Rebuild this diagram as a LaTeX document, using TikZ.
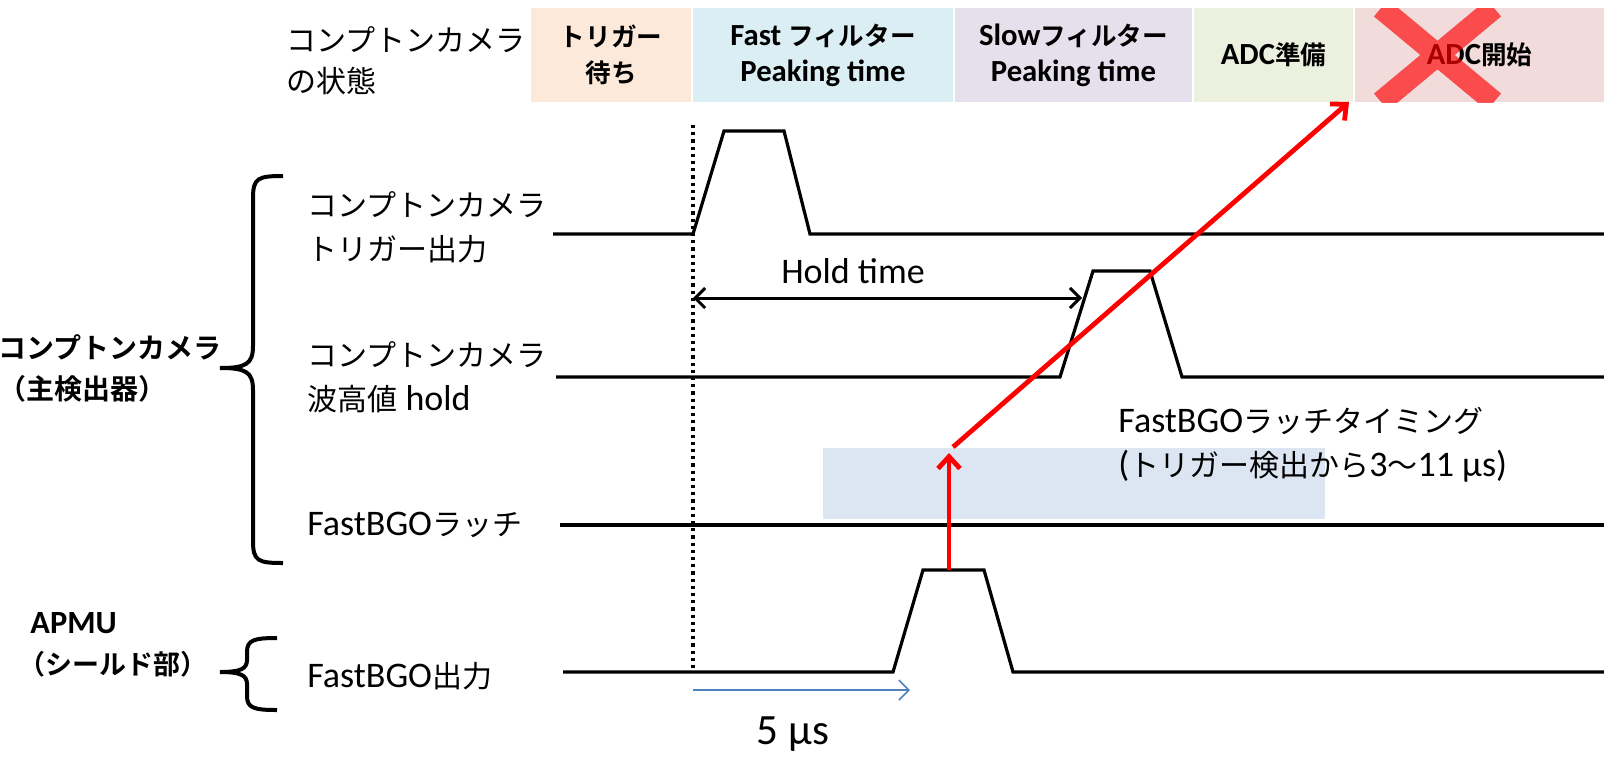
\documentclass[tikz,border=0pt]{standalone}
\usepackage{fontspec}
\setmainfont{Carlito}[Scale=1.2]
\newfontfamily\jp{Noto Sans CJK JP}[BoldFont={Noto Sans CJK JP Bold}]
\usetikzlibrary{positioning, arrows.meta}

\definecolor{stWait}{HTML}{FDE9D9}
\definecolor{stFast}{HTML}{DBEEF4}
\definecolor{stSlow}{HTML}{E5E0EC}
\definecolor{stPrep}{HTML}{EBF1DE}
\definecolor{stStart}{HTML}{F2DCDB}
\definecolor{latchBg}{HTML}{DCE6F2}
\definecolor{arrBlue}{HTML}{4F81BD}

\begin{document}
\begin{tikzpicture}[x=0.5pt, y=-0.5pt,
    node distance=1pt and 1pt,
    state/.style={rectangle, inner sep=0pt, outer sep=0pt, minimum height=47pt,
      align=center, font=\fontsize{12.8}{18}\selectfont\bfseries},
    sig/.style={line width=1.6pt, line join=miter},
    lbl/.style={anchor=west, inner sep=0pt, align=left, font=\fontsize{15}{22}\selectfont},
    grp/.style={anchor=west, inner sep=0pt, align=left, font=\fontsize{13.5}{20.5}\selectfont\bfseries},
    brc/.style={line width=2pt},
    holdarr/.style={{Straight Barb[length=5pt, width=10pt]}-{Straight Barb[length=5pt, width=10pt]}, line width=1.5pt},
    bluearr/.style={-{Straight Barb[length=5pt, width=10pt]}, line width=0.8pt, arrBlue},
    redarr/.style={-{Straight Barb[length=6pt, width=11pt]}, line width=2.4pt, red}]

    \useasboundingbox (0,0) rectangle (1604,756);

    % camera state boxes
    \node[state, fill=stWait, minimum width=80pt, anchor=north west] (stWait) at (531,8)
      {{\jp トリガー}\\{\jp 待ち}};
    \node[state, fill=stFast, minimum width=130pt, right=of stWait] (stFast)
      {Fast {\jp フィルター}\\Peaking time};
    \node[state, fill=stSlow, minimum width=118.5pt, right=of stFast] (stSlow)
      {Slow{\jp フィルター}\\Peaking time};
    \node[state, fill=stPrep, minimum width=79.5pt, right=of stSlow] (stPrep)
      {ADC{\jp 準備}};
    \node[state, fill=stStart, minimum width=124.5pt, right=of stPrep] (stStart)
      {ADC{\jp 開始}};
    \begin{scope}
      \clip (stStart.south west) rectangle (stStart.north east);
      \draw[line width=11pt, red, opacity=0.65] (1381,8) -- (1494,102) (1494,8) -- (1381,102);
    \end{scope}
    \node[lbl, font=\fontsize{15}{20.5}\selectfont\jp] (stateLbl) at (286,61) {コンプトンカメラ\\の状態};

    % signal names
    \node[lbl] (trigLbl)  at (307,227) {{\jp コンプトンカメラ}\\{\jp トリガー出力}};
    \node[lbl] (holdLbl)  at (307,377) {{\jp コンプトンカメラ}\\{\jp 波高値} hold};
    \node[lbl] (latchLbl) at (307,525) {FastBGO{\jp ラッチ}};
    \node[lbl] (bgoLbl)   at (307,676) {FastBGO{\jp 出力}};

    % groups
    \node[grp, font=\fontsize{14}{20.5}\selectfont\bfseries\jp] (mainGrp) at (-2,368) {コンプトンカメラ\\（主検出器）};
    \node[grp] (apmuGrp) at (18,645) {\hspace*{6pt}APMU\\{\jp （シールド部）}};
    \draw[brc] (283,176) .. controls (258,176) and (253,178) .. (253,198) -- (253,346)
      .. controls (253,364) and (246,368) .. (220,368)
      .. controls (246,368) and (253,372) .. (253,390) -- (253,541)
      .. controls (253,561) and (258,563) .. (283,563);
    \draw[brc] (277,638) .. controls (254,638) and (247,640) .. (247,652) -- (247,660)
      .. controls (247,669) and (240,672) .. (220,672)
      .. controls (240,672) and (247,675) .. (247,684) -- (247,696)
      .. controls (247,708) and (254,710) .. (277,710);

    % latch window
    \fill[latchBg] (823,448) rectangle (1325,519);
    \node[lbl] (latchTxt) at (1118,445) {FastBGO{\jp ラッチタイミング}\\({\jp トリガー検出から}3{\jp 〜}11 µs)};

    % signals
    \draw[sig] (553,234) -- (693,234) -- (724,131) -- (784,131) -- (810,234) -- (1604,234);
    \draw[sig] (556,377) -- (1060,377) -- (1093,271) -- (1150,271) -- (1182,377) -- (1604,377);
    \draw[sig] (560,525) -- (1604,525);
    \draw[sig] (563,672) -- (893,672) -- (923,570) -- (984,570) -- (1013,672) -- (1604,672);
    \draw[line width=1.6pt, dash pattern=on 1.6pt off 2pt] (693,125) -- (693,672);

    % timing marks
    \coordinate (holdBeg) at (693,298);
    \coordinate (holdEnd) at (1082,298);
    \draw[holdarr] (holdBeg) -- (holdEnd);
    \node[font=\fontsize{15}{18}\selectfont] (holdTxt) at (853,271) {Hold time};
    \coordinate (dlyBeg) at (693,690);
    \coordinate (dlyEnd) at (910,690);
    \draw[bluearr] (dlyBeg) -- (dlyEnd);
    \node[font=\fontsize{18}{22}\selectfont] (dlyTxt) at (793,734) {5 µs};

    % latch -> ADC
    \coordinate (bgoTop) at (949,570);
    \coordinate (latchPt) at (949,453);
    \coordinate (diagBeg) at (953,447);
    \draw[redarr] (bgoTop) -- (latchPt);
    \draw[redarr] (diagBeg) -- ([xshift=-3pt]stStart.south west);
\end{tikzpicture}
\end{document}
